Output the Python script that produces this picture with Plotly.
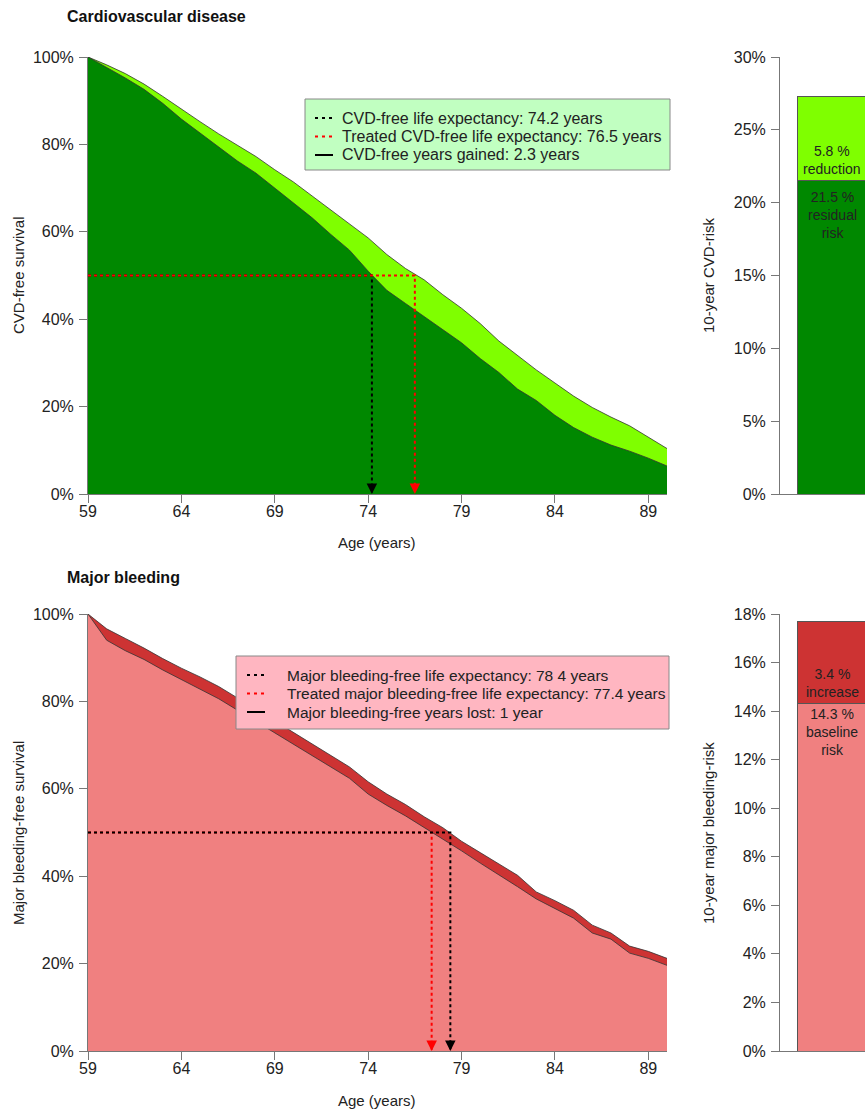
import plotly.graph_objects as go

# ---------------- data ----------------
ages = list(range(59, 91))

cvd_treated = [100, 98.2, 96.2, 93.8, 91.0, 88.0, 85.2, 82.4, 79.8, 77.2, 74.2, 71.4, 68.2, 65.0,
               62.0, 58.6, 54.8, 51.6, 49.0, 45.6, 42.5, 39.0, 35.0, 31.6, 28.4, 25.4, 22.4,
               19.8, 17.6, 15.6, 13.0, 10.4]
cvd_untreated = [100, 97.6, 95.2, 92.6, 89.4, 85.8, 82.6, 79.4, 76.2, 73.4, 70.0, 66.4, 63.2, 59.4,
                 55.8, 51.0, 46.6, 43.6, 40.6, 37.8, 34.6, 31.0, 27.8, 24.0, 21.4, 18.0, 15.2,
                 13.0, 11.2, 9.8, 8.2, 6.4]
bleed_untreated = [100, 96.6, 94.4, 92.2, 89.8, 87.6, 85.6, 83.4, 80.8, 78.2, 75.6, 73.0, 70.2, 67.6,
                   65.0, 61.6, 58.8, 56.4, 53.6, 51.1, 48.0, 45.4, 42.8, 40.2, 36.4, 34.4, 32.2,
                   28.8, 27.0, 24.0, 22.8, 21.2]
bleed_treated = [100, 94.0, 91.6, 89.6, 87.2, 85.0, 82.8, 80.6, 78.0, 75.4, 72.8, 70.2, 67.6, 65.0,
                 62.4, 58.8, 56.2, 53.8, 51.2, 48.4, 45.8, 43.0, 40.2, 37.6, 34.8, 32.6, 30.4,
                 27.0, 25.6, 22.4, 21.2, 19.6]

cvd_le = 74.2
cvd_le_treated = 76.5
bleed_le = 78.4
bleed_le_treated = 77.4

cvd_bar_residual = [21.5]
cvd_bar_reduction = [5.8]
bleed_bar_baseline = [14.3]
bleed_bar_increase = [3.4]

x_ticks = [59, 64, 69, 74, 79, 84, 89]
surv_ticks = [0, 20, 40, 60, 80, 100]
cvd_risk_ticks = [0, 5, 10, 15, 20, 25, 30]
bleed_risk_ticks = [0, 2, 4, 6, 8, 10, 12, 14, 16, 18]

cvd_legend_labels = [f"CVD-free life expectancy: {cvd_le} years",
                     f"Treated CVD-free life expectancy: {cvd_le_treated} years",
                     f"CVD-free years gained: {round(cvd_le_treated - cvd_le, 1)} years"]
bleed_legend_labels = ["Major bleeding-free life expectancy: 78 4 years",
                       f"Treated major bleeding-free life expectancy: {bleed_le_treated} years",
                       "Major bleeding-free years lost: 1 year"]
legend_styles = [("black", "3px,4px"), ("red", "3px,4px"), ("black", "solid")]

# ---------------- layout helpers ----------------
W, H = 865, 1109
FONT = "Liberation Sans, Arial, Helvetica, sans-serif"


def px_x(p):
    return p / W


def px_y(p):
    return 1 - p / H


def pct(vals):
    return [f"{v}%" for v in vals]


DARK_GREEN = "#008800"
LIGHT_GREEN = "#7FFF00"
LIGHT_RED = "#F08080"
DARK_RED = "#CD3333"
EDGE = "#333333"
AXIS = "#777777"
TXT = "#222222"

fig = go.Figure()

# ---------------- top survival panel ----------------
fig.add_trace(go.Scatter(x=ages, y=cvd_treated, mode="lines", fill="tozeroy",
                         fillcolor=LIGHT_GREEN, line=dict(color=EDGE, width=0.8),
                         showlegend=False, xaxis="x", yaxis="y", hoverinfo="skip"))
fig.add_trace(go.Scatter(x=ages, y=cvd_untreated, mode="lines", fill="tozeroy",
                         fillcolor=DARK_GREEN, line=dict(color=EDGE, width=0.8),
                         showlegend=False, xaxis="x", yaxis="y", hoverinfo="skip"))
fig.add_trace(go.Scatter(x=[59, cvd_le, cvd_le], y=[50, 50, 0], mode="lines",
                         line=dict(color="black", width=2, dash="3px,3px"),
                         name=cvd_legend_labels[0], showlegend=False, xaxis="x", yaxis="y"))
fig.add_trace(go.Scatter(x=[59, cvd_le_treated, cvd_le_treated], y=[50, 50, 0], mode="lines",
                         line=dict(color="red", width=2, dash="3px,3px"),
                         name=cvd_legend_labels[1], showlegend=False, xaxis="x", yaxis="y"))

# ---------------- bottom survival panel ----------------
fig.add_trace(go.Scatter(x=ages, y=bleed_untreated, mode="lines", fill="tozeroy",
                         fillcolor=DARK_RED, line=dict(color=EDGE, width=0.8),
                         showlegend=False, xaxis="x2", yaxis="y2", hoverinfo="skip"))
fig.add_trace(go.Scatter(x=ages, y=bleed_treated, mode="lines", fill="tozeroy",
                         fillcolor=LIGHT_RED, line=dict(color=EDGE, width=0.8),
                         showlegend=False, xaxis="x2", yaxis="y2", hoverinfo="skip"))
fig.add_trace(go.Scatter(x=[59, bleed_le_treated, bleed_le_treated], y=[50, 50, 0], mode="lines",
                         line=dict(color="red", width=2, dash="3px,3px"),
                         name=bleed_legend_labels[1], showlegend=False, xaxis="x2", yaxis="y2"))
fig.add_trace(go.Scatter(x=[59, bleed_le, bleed_le], y=[50, 50, 0], mode="lines",
                         line=dict(color="black", width=2, dash="3px,3px"),
                         name=bleed_legend_labels[0], showlegend=False, xaxis="x2", yaxis="y2"))

# ---------------- bars ----------------
bar_line = dict(color="#555", width=1)
fig.add_trace(go.Bar(x=[1], y=cvd_bar_residual, width=2, marker=dict(color=DARK_GREEN, line=bar_line),
                     showlegend=False, xaxis="x3", yaxis="y3", hoverinfo="skip"))
fig.add_trace(go.Bar(x=[1], y=cvd_bar_reduction, width=2, marker=dict(color=LIGHT_GREEN, line=bar_line),
                     showlegend=False, xaxis="x3", yaxis="y3", hoverinfo="skip"))
fig.add_trace(go.Bar(x=[1], y=bleed_bar_baseline, width=2, marker=dict(color=LIGHT_RED, line=bar_line),
                     showlegend=False, xaxis="x4", yaxis="y4", hoverinfo="skip"))
fig.add_trace(go.Bar(x=[1], y=bleed_bar_increase, width=2, marker=dict(color=DARK_RED, line=bar_line),
                     showlegend=False, xaxis="x4", yaxis="y4", hoverinfo="skip"))

tickfont = dict(family=FONT, size=16, color=TXT)
axis_base = dict(showline=True, linecolor=AXIS, linewidth=1, ticks="outside", ticklen=8,
                 tickcolor=AXIS, showgrid=False, zeroline=False, tickfont=tickfont,
                 fixedrange=True, automargin=False)
common_x = dict(range=[59, 90], tickmode="array", tickvals=x_ticks, ticktext=[str(t) for t in x_ticks],
                ticklabelstandoff=-5, **axis_base)
common_y = dict(range=[0, 100], tickmode="array", tickvals=surv_ticks, ticktext=pct(surv_ticks),
                ticklabelstandoff=2, **axis_base)

top_dom = [px_y(494), px_y(57)]
bot_dom = [px_y(1051), px_y(614)]
left_dom = [px_x(88), px_x(667)]
bar_dom = [px_x(780), 1.0]

bar_x_axis = dict(range=[-0.4, 1.6], showticklabels=False, ticks="", showline=True, linecolor=AXIS,
                  showgrid=False, zeroline=False, fixedrange=True, automargin=False)

fig.update_layout(
    width=W, height=H, margin=dict(l=0, r=0, t=0, b=0, pad=0, autoexpand=False),
    paper_bgcolor="white", plot_bgcolor="white",
    font=dict(family=FONT, color=TXT),
    barmode="stack", showlegend=False,
    xaxis=dict(domain=left_dom, anchor="y", **common_x),
    yaxis=dict(domain=top_dom, anchor="x", **common_y),
    xaxis2=dict(domain=left_dom, anchor="y2", **common_x),
    yaxis2=dict(domain=bot_dom, anchor="x2", **common_y),
    xaxis3=dict(domain=bar_dom, anchor="y3", **bar_x_axis),
    yaxis3=dict(domain=top_dom, anchor="x3", range=[0, 30], tickmode="array", tickvals=cvd_risk_ticks,
                ticktext=pct(cvd_risk_ticks), ticklabelstandoff=2, **axis_base),
    xaxis4=dict(domain=bar_dom, anchor="y4", **bar_x_axis),
    yaxis4=dict(domain=bot_dom, anchor="x4", range=[0, 18], tickmode="array", tickvals=bleed_risk_ticks,
                ticktext=pct(bleed_risk_ticks), ticklabelstandoff=2, **axis_base),
)

ann = []
shapes = []


def add_legend(labels, box, sym_x, text_x, rows, bg, fsize):
    x0, x1, y0, y1 = box
    shapes.append(dict(type="rect", xref="paper", yref="paper", x0=px_x(x0), x1=px_x(x1),
                       y0=px_y(y1), y1=px_y(y0), fillcolor=bg, line=dict(color="#888", width=1),
                       layer="above"))
    for lab, (col, dash), ry in zip(labels, legend_styles, rows):
        shapes.append(dict(type="line", xref="paper", yref="paper", x0=px_x(sym_x[0]), x1=px_x(sym_x[1]),
                           y0=px_y(ry), y1=px_y(ry), line=dict(color=col, width=2, dash=dash),
                           layer="above"))
        ann.append(dict(text=lab, x=px_x(text_x), y=px_y(ry), xref="paper", yref="paper",
                        xanchor="left", yanchor="middle", showarrow=False,
                        font=dict(size=fsize, color=TXT)))


add_legend(cvd_legend_labels, (305, 670, 99, 170), (315, 333), 340, (118, 136.5, 155), "#C1FFC1", 16)
add_legend(bleed_legend_labels, (236, 669, 656, 729), (247, 265), 285, (675, 693.5, 712), "#FFB6C1", 15.5)

# panel titles
ann.append(dict(text="<b>Cardiovascular disease</b>", x=px_x(65), y=px_y(17), xref="paper", yref="paper",
                xanchor="left", yanchor="middle", showarrow=False, font=dict(size=16, color="#111")))
ann.append(dict(text="<b>Major bleeding</b>", x=px_x(65), y=px_y(577), xref="paper", yref="paper",
                xanchor="left", yanchor="middle", showarrow=False, font=dict(size=16, color="#111")))
# axis titles
for txt, yy in [("CVD-free survival", 275), ("Major bleeding-free survival", 833)]:
    ann.append(dict(text=txt, x=px_x(18), y=px_y(yy), xref="paper", yref="paper", textangle=-90,
                    xanchor="center", yanchor="middle", showarrow=False, font=dict(size=15)))
for txt, yy in [("10-year CVD-risk", 275), ("10-year major bleeding-risk", 833)]:
    ann.append(dict(text=txt, x=px_x(708), y=px_y(yy), xref="paper", yref="paper", textangle=-90,
                    xanchor="center", yanchor="middle", showarrow=False, font=dict(size=15)))
for yy in [543, 1100]:
    ann.append(dict(text="Age (years)", x=px_x(377), y=px_y(yy), xref="paper", yref="paper",
                    xanchor="center", yanchor="middle", showarrow=False, font=dict(size=15)))
# arrowheads
for xr, yr, xv, col in [("x", "y", cvd_le, "black"), ("x", "y", cvd_le_treated, "red"),
                        ("x2", "y2", bleed_le_treated, "red"), ("x2", "y2", bleed_le, "black")]:
    ann.append(dict(x=xv, y=0, xref=xr, yref=yr, ax=0, ay=-9, showarrow=True, arrowhead=2,
                    arrowsize=1.4, arrowwidth=1.5, arrowcolor=col, text="", standoff=0))
# bar labels
bar_x = px_x(832)
lab_font = dict(size=14, color=TXT)
ann.append(dict(text=f"{cvd_bar_reduction[0]} %<br>reduction", x=bar_x, y=cvd_bar_residual[0], xref="paper",
                yref="y3", xanchor="center", yanchor="bottom", yshift=2, showarrow=False, font=lab_font))
ann.append(dict(text=f"{cvd_bar_residual[0]} %<br>residual<br>risk", x=bar_x, y=cvd_bar_residual[0],
                xref="paper", yref="y3", xanchor="center", yanchor="top", yshift=-6, showarrow=False,
                font=lab_font))
ann.append(dict(text=f"{bleed_bar_increase[0]} %<br>increase", x=bar_x, y=bleed_bar_baseline[0], xref="paper",
                yref="y4", xanchor="center", yanchor="bottom", yshift=2, showarrow=False, font=lab_font))
ann.append(dict(text=f"{bleed_bar_baseline[0]} %<br>baseline<br>risk", x=bar_x, y=bleed_bar_baseline[0],
                xref="paper", yref="y4", xanchor="center", yanchor="top", yshift=0, showarrow=False,
                font=lab_font))

fig.update_layout(annotations=ann, shapes=shapes)

fig.write_html("out.html", config={"displayModeBar": False},
               post_script="document.body.style.margin='0';document.body.style.overflow='hidden';")
